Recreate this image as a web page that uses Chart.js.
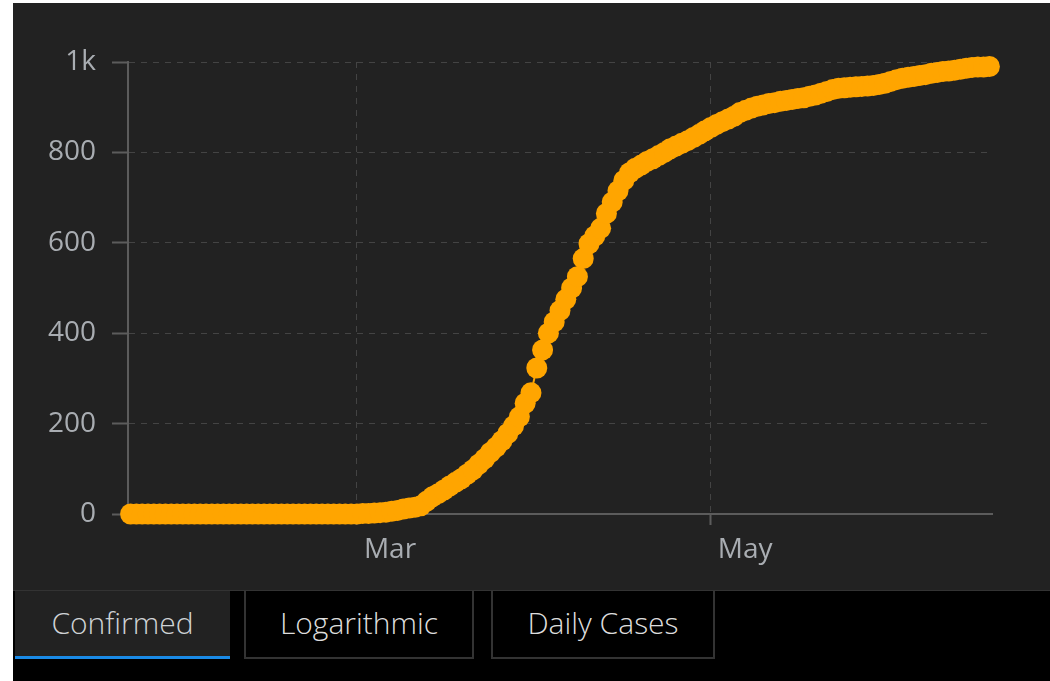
<!DOCTYPE html>
<html>
<head>
<meta charset="utf-8">
<script src="https://cdn.jsdelivr.net/npm/chart.js@4"></script>
<style>
    html, body {
        margin: 0;
        padding: 0;
        background: #ffffff;
        width: 1050px;
        height: 681px;
        overflow: hidden;
        font-family: "Open Sans", sans-serif;
    }
    #panel {
        position: absolute;
        left: 13px;
        top: 3px;
        width: 1037px;
        height: 587px;
        background: #222222;
    }
    #tabbar {
        position: absolute;
        left: 13px;
        top: 590px;
        width: 1037px;
        height: 91px;
        background: #000000;
        border-top: 1px solid #333333;
        box-sizing: border-box;
    }
    .tab {
        position: absolute;
        top: 0;
        height: 68px;
        box-sizing: border-box;
        font-size: 30px;
        font-weight: 300;
        line-height: 64px;
        text-align: center;
        color: #dddddd;
        border: 2px solid #333333;
        border-top: none;
        background: #000000;
    }
    .tab.active {
        background: #222222;
        color: #cfd3d6;
        border: none;
        border-bottom: 3px solid #1a8ae6;
    }
</style>
</head>
<body>
<div id="panel"><canvas id="confirmedChart" width="1037" height="587"></canvas></div>
<div id="tabbar">
    <div class="tab active" style="left:2px; width:215px;">Confirmed</div>
    <div class="tab" style="left:231px; width:230px;">Logarithmic</div>
    <div class="tab" style="left:478px; width:224px;">Daily Cases</div>
</div>
<script>
// Dane: skumulowane potwierdzone przypadki, jeden punkt dziennie od startDate
const startDate = '2020-01-22';
const confirmed = [
    0, 0, 0, 0, 0, 0, 0, 0, 0, 0,
    0, 0, 0, 0, 0, 0, 0, 0, 0, 0,
    0, 0, 0, 0, 0, 0, 0, 0, 0, 0,
    0, 0, 0, 0, 0, 0, 0, 0, 0, 0,
    1, 1, 2, 3, 4, 6, 8, 11, 13,
    15, 18, 28, 38, 45, 53, 62, 70, 78, 88,
    98, 110, 122, 136, 148, 162, 178, 195, 215, 245,
    268, 323, 363, 400, 425, 450, 475, 500, 525, 565,
    598, 615, 632, 665, 690, 715, 738, 755, 765, 772,
    780, 786, 793, 800, 808, 814, 820, 826, 833, 840,
    848, 855, 862, 868, 874, 880,
    888, 893, 898, 902, 905, 908, 910, 913, 915, 917,
    919, 921, 924, 927, 931, 935, 939, 942, 943, 944,
    945, 946, 947, 948, 950, 953, 957, 961, 964, 966,
    968, 970, 972, 975, 977, 979, 980, 982, 984, 986,
    988, 989, 989, 990
];
const monthTickDates = ['2020-03-01', '2020-05-01'];
const monthTickLabels = ['Mar', 'May'];
const yTicks = [0, 200, 400, 600, 800, 1000];

function dayOffset(dateStr) {
    return Math.round((Date.parse(dateStr) - Date.parse(startDate)) / 86400000);
}

const points = confirmed.map((v, i) => ({ x: i, y: v }));
const monthTickDays = monthTickDates.map(dayOffset);

const tickColor = '#a9adb2';
const gridColor = '#444444';
const axisColor = '#5c5c5c';

const ctx = document.getElementById('confirmedChart').getContext('2d');
const confirmedChart = new Chart(ctx, {
    type: 'line',
    data: {
        datasets: [{
            data: points,
            borderColor: '#ffa500',
            backgroundColor: '#ffa500',
            borderWidth: 2,
            pointRadius: 10.5,
            pointBorderWidth: 0,
            pointBackgroundColor: '#ffa500',
            tension: 0,
            clip: false
        }]
    },
    options: {
        responsive: false,
        animation: false,
        events: [],
        layout: {
            padding: { left: 0, right: 58, top: 59, bottom: 0 }
        },
        plugins: {
            legend: { display: false },
            tooltip: { enabled: false }
        },
        scales: {
            x: {
                type: 'linear',
                min: -0.45,
                max: confirmed.length - 1 + 0.45,
                afterFit: scale => { scale.height = 76; },
                afterBuildTicks: axis => {
                    axis.ticks = monthTickDays.map(d => ({ value: d }));
                },
                ticks: {
                    color: tickColor,
                    font: { family: 'Open Sans', size: 28 },
                    align: 'start',
                    labelOffset: 7,
                    padding: 8,
                    maxRotation: 0,
                    callback: value => monthTickLabels[monthTickDays.indexOf(value)]
                },
                grid: {
                    color: gridColor,
                    lineWidth: 1,
                    tickLength: 11,
                    tickColor: axisColor,
                    tickWidth: 2
                },
                border: {
                    display: true,
                    color: axisColor,
                    width: 2,
                    dash: [6, 6]
                }
            },
            y: {
                min: 0,
                max: 1000,
                afterFit: scale => { scale.width = 115; },
                afterBuildTicks: axis => {
                    axis.ticks = yTicks.map(v => ({ value: v }));
                },
                ticks: {
                    color: tickColor,
                    font: { family: 'Open Sans', size: 28 },
                    padding: 16,
                    callback: value => value >= 1000 ? (value / 1000) + 'k' : value
                },
                grid: {
                    color: gridColor,
                    lineWidth: 1,
                    tickLength: 16,
                    tickColor: axisColor,
                    tickWidth: 2
                },
                border: {
                    display: true,
                    color: axisColor,
                    width: 2,
                    dash: [6, 6]
                }
            }
        }
    }
});
</script>
</body>
</html>
